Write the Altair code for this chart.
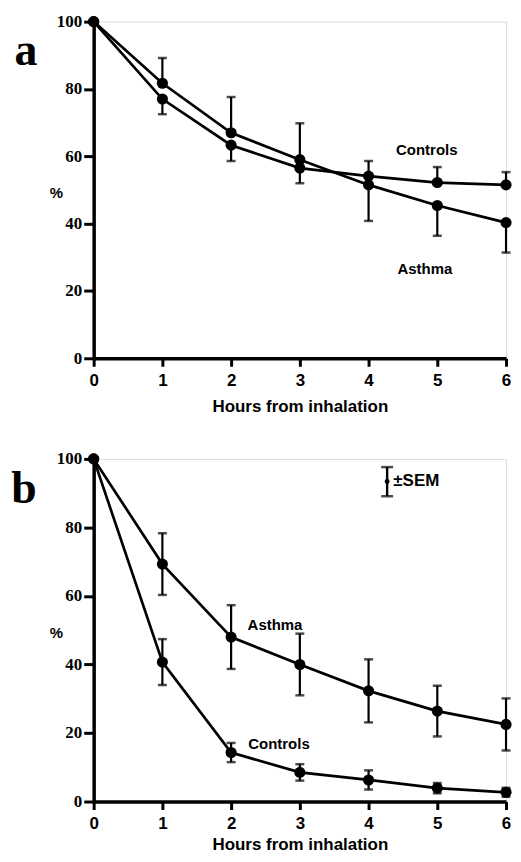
import altair as alt
import pandas as pd

# ---------------- data ----------------
hours = [0, 1, 2, 3, 4, 5, 6]

# panel a
a_asthma = [100, 81.7, 67.0, 59.0, 51.5, 45.4, 40.3]
a_asthma_whisker = [None, 89.2, 77.6, 69.8, 40.8, 36.4, 31.4]
a_controls = [100, 77.0, 63.3, 56.5, 54.1, 52.2, 51.5]
a_controls_whisker = [None, 72.5, 58.6, 52.0, 58.6, 56.8, 55.3]

# panel b
b_asthma = [100, 69.3, 48.0, 40.0, 32.3, 26.4, 22.5]
b_asthma_sem = [0, 9.0, 9.3, 9.0, 9.2, 7.4, 7.6]
b_controls = [100, 40.7, 14.3, 8.5, 6.3, 3.9, 2.7]
b_controls_sem = [0, 6.7, 2.8, 2.4, 2.8, 1.5, 1.3]

y_ticks = [0, 20, 40, 60, 80, 100]

# annotations (data coordinates)
a_label_text = ["Controls", "Asthma"]
a_label_x = [4.4, 4.42]
a_label_y = [61.8, 26.6]
b_label_text = ["Asthma", "Controls"]
b_label_x = [2.24, 2.25]
b_label_y = [51.6, 16.7]
sem_key_x = 4.27
sem_key_lo = 89.1
sem_key_hi = 97.6
sem_key_mid = 93.4
sem_key_text_x = 4.36

W = 414
BLACK = "#000000"
SANS = "Liberation Sans"
SERIF = "Liberation Serif"

xscale = alt.Scale(domain=[0, 6], nice=False)
yscale = alt.Scale(domain=[0, 100], nice=False)


def xaxis(title_pad):
    return alt.Axis(values=hours, format="d", title="Hours from inhalation",
                    labelFont=SANS, labelFontWeight="bold", labelFontSize=17,
                    labelColor=BLACK, labelFlush=False, labelPadding=6,
                    tickSize=8, tickWidth=3, tickColor=BLACK,
                    domainWidth=3.5, domainColor=BLACK, grid=False,
                    titleFont=SANS, titleFontWeight="bold", titleFontSize=17,
                    titleColor=BLACK, titlePadding=title_pad)


def yaxis(title_y):
    return alt.Axis(values=y_ticks, format="d", title="%",
                    labelFont=SERIF, labelFontWeight="bold", labelFontSize=17,
                    labelColor=BLACK, labelFlush=False, labelPadding=2,
                    tickSize=10, tickWidth=3, tickColor=BLACK,
                    domainWidth=3.5, domainColor=BLACK, grid=False,
                    titleFont=SANS, titleFontWeight="bold", titleFontSize=15,
                    titleColor=BLACK, titleAngle=0, titleX=-38, titleY=title_y,
                    titleAlign="center", titleBaseline="middle")


def series_df(asthma, controls):
    rows = []
    for name, vals in (("Asthma", asthma), ("Controls", controls)):
        for h, v in zip(hours, vals):
            rows.append({"h": h, "v": v, "s": name})
    return pd.DataFrame(rows)


def panel(line_df, err_df, cap_df, label_df, letter, letter_x, height, title_y,
          title_pad, extra=None):
    X = alt.X("h:Q", scale=xscale, axis=xaxis(title_pad))
    Y = alt.Y("v:Q", scale=yscale, axis=yaxis(title_y))
    base = alt.Chart(line_df)
    lines = base.mark_line(color=BLACK, strokeWidth=2.7).encode(x=X, y=Y, detail="s:N")
    pts = base.mark_circle(color=BLACK, opacity=1, size=125).encode(x="h:Q", y="v:Q")
    err = alt.Chart(err_df).mark_rule(color=BLACK, strokeWidth=2.2).encode(
        x="h:Q", y="lo:Q", y2="hi:Q")
    caps = alt.Chart(cap_df).mark_tick(color=BLACK, orient="horizontal",
                                        size=9, thickness=2.5).encode(x="h:Q", y="c:Q")
    labels = alt.Chart(label_df).mark_text(font=SANS, fontWeight="bold", fontSize=15,
                                           align="left", baseline="middle",
                                           color=BLACK).encode(
        x="x:Q", y="y:Q", text="t:N")
    let = alt.Chart(pd.DataFrame({"t": [letter]})).mark_text(
        font=SERIF, fontWeight="bold", fontSize=46, align="center",
        baseline="alphabetic", color=BLACK).encode(
        x=alt.value(letter_x), y=alt.value(44), text="t:N")
    layers = [lines, err, caps, pts, labels, let]
    if extra is not None:
        layers += extra
    return alt.layer(*layers).properties(width=W, height=height)


# ---- panel a ----
a_lines = series_df(a_asthma, a_controls)
a_err_rows, a_cap_rows = [], []
for vals, wh in ((a_asthma, a_asthma_whisker), (a_controls, a_controls_whisker)):
    for h, v, w in zip(hours, vals, wh):
        if w is None:
            continue
        a_err_rows.append({"h": h, "lo": v, "hi": w})
        a_cap_rows.append({"h": h, "c": w})
a_labels = pd.DataFrame({"t": a_label_text, "x": a_label_x, "y": a_label_y})
panel_a = panel(a_lines, pd.DataFrame(a_err_rows), pd.DataFrame(a_cap_rows),
                a_labels, "a", -68, 338, 172, 10)

# ---- panel b ----
b_lines = series_df(b_asthma, b_controls)
b_err_rows, b_cap_rows = [], []
for vals, sems in ((b_asthma, b_asthma_sem), (b_controls, b_controls_sem)):
    for h, v, s in zip(hours, vals, sems):
        if s == 0:
            continue
        b_err_rows.append({"h": h, "lo": v - s, "hi": v + s})
        b_cap_rows.append({"h": h, "c": v - s})
        b_cap_rows.append({"h": h, "c": v + s})
b_labels = pd.DataFrame({"t": b_label_text, "x": b_label_x, "y": b_label_y})

key_df = pd.DataFrame({"h": [sem_key_x], "lo": [sem_key_lo], "hi": [sem_key_hi],
                       "m": [sem_key_mid], "tx": [sem_key_text_x], "t": ["±SEM"]})
key_rule = alt.Chart(key_df).mark_rule(color=BLACK, strokeWidth=2.4).encode(
    x="h:Q", y="lo:Q", y2="hi:Q")
key_caps = alt.Chart(pd.DataFrame({"h": [sem_key_x, sem_key_x],
                                   "c": [sem_key_lo, sem_key_hi]})).mark_tick(
    color=BLACK, orient="horizontal", size=12, thickness=2.5).encode(x="h:Q", y="c:Q")
key_dot = alt.Chart(key_df).mark_circle(color=BLACK, opacity=1, size=24).encode(
    x="h:Q", y="m:Q")
key_text = alt.Chart(key_df).mark_text(font=SANS, fontWeight="bold", fontSize=17,
                                       align="left", baseline="middle",
                                       color=BLACK).encode(x="tx:Q", y="m:Q", text="t:N")

panel_b = panel(b_lines, pd.DataFrame(b_err_rows), pd.DataFrame(b_cap_rows),
                b_labels, "b", -70, 344, 174, 5,
                extra=[key_rule, key_caps, key_dot, key_text])

chart = alt.vconcat(panel_a, panel_b, spacing=34).properties(
    padding={"left": 2, "top": 2, "right": 0, "bottom": 0}
).configure_view(stroke=None).configure(background="white")

chart.save("out.html", embed_options={"renderer": "svg", "actions": False})
